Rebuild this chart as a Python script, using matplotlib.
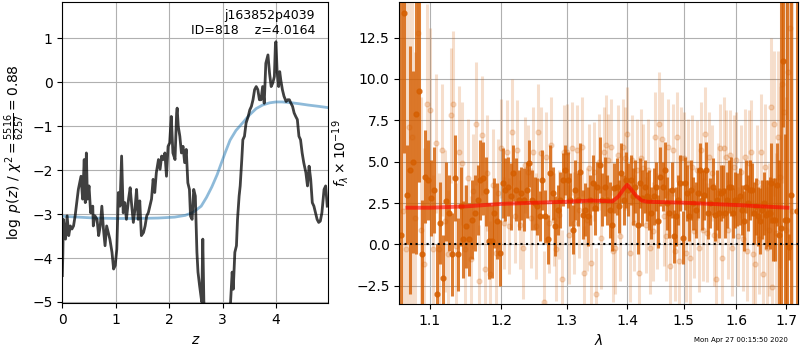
import numpy as np
import matplotlib
matplotlib.use('Agg')
import matplotlib.pyplot as plt
from matplotlib.ticker import FixedLocator, FormatStrFormatter, NullLocator

# log p(z) curve (black)
z_pz = [0.00, 0.01, 0.02, 0.06, 0.09, 0.12, 0.15, 0.18, 0.21, 0.24,
        0.27, 0.30, 0.35, 0.38, 0.41, 0.43, 0.45, 0.47, 0.50, 0.53,
        0.57, 0.58, 0.61, 0.65, 0.68, 0.71, 0.74, 0.77, 0.80, 0.83,
        0.86, 0.89, 0.93, 0.96, 0.99, 1.02, 1.05, 1.08, 1.11, 1.14,
        1.17, 1.20, 1.24, 1.27, 1.30, 1.33, 1.36, 1.39, 1.42, 1.45,
        1.48, 1.52, 1.55, 1.58, 1.61, 1.64, 1.67, 1.70, 1.73, 1.76,
        1.80, 1.83, 1.86, 1.89, 1.92, 1.95, 1.98, 2.01, 2.04, 2.07,
        2.11, 2.14, 2.15, 2.17, 2.20, 2.23, 2.26, 2.29, 2.32, 2.35,
        2.38, 2.40, 2.43, 2.46, 2.49, 2.52, 2.54, 2.57, 2.61, 2.63,
        2.65, 2.70, 2.80, 2.90, 3.00, 3.08, 3.13, 3.15, 3.18, 3.20,
        3.23, 3.26, 3.28, 3.31, 3.33, 3.36, 3.38, 3.41, 3.44, 3.48,
        3.51, 3.54, 3.57, 3.60, 3.63, 3.66, 3.69, 3.72, 3.75, 3.78,
        3.81, 3.85, 3.88, 3.91, 3.94, 3.97, 3.99, 4.00, 4.02, 4.05,
        4.07, 4.09, 4.12, 4.15, 4.19, 4.22, 4.25, 4.28, 4.31, 4.34,
        4.37, 4.40, 4.43, 4.46, 4.49, 4.52, 4.56, 4.59, 4.62, 4.65,
        4.68, 4.71, 4.74, 4.77, 4.80, 4.83, 4.86, 4.90, 4.93, 4.96]
logpz = [-4.40, -3.90, -3.12, -3.57, -3.04, -3.49, -3.27, -3.34, -3.27, -3.04,
         -2.74, -2.44, -2.14, -2.66, -1.76, -2.74, -1.61, -2.66, -2.36, -2.97,
         -2.82, -3.27, -3.04, -3.12, -3.49, -3.27, -2.82, -3.34, -3.72, -3.27,
         -3.42, -3.57, -3.87, -4.25, -4.17, -3.80, -2.51, -2.82, -1.68, -2.97,
         -2.74, -3.12, -2.66, -2.40, -2.82, -3.19, -2.89, -2.44, -3.12, -2.70,
         -3.49, -3.42, -3.27, -3.04, -2.97, -2.82, -2.66, -2.21, -2.51, -2.06,
         -1.76, -1.98, -1.68, -1.76, -1.61, -2.14, -1.46, -1.38, -0.78, -1.61,
         -1.76, -0.70, -0.59, -1.00, -1.23, -1.61, -1.46, -1.83, -1.53, -2.29,
         -2.44, -3.05, -3.12, -2.44, -2.59, -3.87, -4.32, -4.63, -5.00, -3.57,
         -5.00, -5.80, -6.50, -7.00, -6.80, -6.00, -5.30, -5.00, -4.32, -4.71,
         -3.87, -3.72, -3.12, -2.59, -2.36, -1.76, -1.31, -1.23, -0.93, -0.78,
         -0.63, -0.55, -0.40, -0.17, -0.10, -0.17, -0.40, -0.40, -0.10, -0.48,
         0.43, 0.62, 0.20, -0.10, -0.02, 0.13, 0.88, 0.92, 0.28, -0.10,
         0.24, 0.05, -0.17, -0.32, -0.44, -0.40, -0.40, -0.48, -0.55, -0.70,
         -0.78, -0.85, -1.23, -1.31, -1.61, -1.83, -2.06, -2.36, -1.91, -2.21,
         -2.74, -2.82, -2.97, -3.12, -3.19, -3.16, -2.97, -2.44, -2.36, -2.82]

# scaled chi2 curve (blue)
z_chi = [0.0, 0.3, 0.6, 1.0, 1.4, 1.8, 2.1, 2.3, 2.45, 2.6, 2.7, 2.8, 2.9, 2.95,
         3.05, 3.14, 3.25, 3.38, 3.5, 3.63, 3.75, 3.88, 4.0, 4.12, 4.3, 4.43,
         4.6, 4.8, 4.98]
chi_scaled = [-3.05, -3.07, -3.09, -3.10, -3.10, -3.09, -3.07, -3.03, -2.96, -2.82,
              -2.62, -2.38, -2.10, -1.93, -1.60, -1.32, -1.10, -0.92, -0.75, -0.60,
              -0.52, -0.47, -0.45, -0.45, -0.47, -0.49, -0.52, -0.55, -0.58]

# spectrum, first set (dark)
wave_a = [1.062, 1.066, 1.070, 1.074, 1.078, 1.082, 1.086, 1.090, 1.094, 1.098,
          1.102, 1.106, 1.110, 1.114, 1.118, 1.122, 1.126, 1.130, 1.134, 1.138,
          1.142, 1.146, 1.150, 1.154, 1.158, 1.162, 1.166, 1.170, 1.174, 1.178,
          1.182, 1.186, 1.190, 1.194, 1.198, 1.202, 1.206, 1.210, 1.214, 1.218,
          1.222, 1.226, 1.230, 1.234, 1.238, 1.242, 1.246, 1.250, 1.254, 1.258,
          1.262, 1.266, 1.270, 1.274, 1.278, 1.282, 1.286, 1.290, 1.294, 1.298,
          1.302, 1.306, 1.310, 1.314, 1.318, 1.322, 1.326, 1.330, 1.334, 1.338,
          1.342, 1.346, 1.350, 1.354, 1.358, 1.362, 1.366, 1.370, 1.374, 1.378,
          1.382, 1.386, 1.390, 1.394, 1.398, 1.402, 1.406, 1.410, 1.414, 1.418,
          1.422, 1.426, 1.430, 1.434, 1.438, 1.442, 1.446, 1.450, 1.454, 1.458,
          1.462, 1.466, 1.470, 1.474, 1.478, 1.482, 1.486, 1.490, 1.494, 1.498,
          1.502, 1.506, 1.510, 1.514, 1.518, 1.522, 1.526, 1.530, 1.534, 1.538,
          1.542, 1.546, 1.550, 1.554, 1.558, 1.562, 1.566, 1.570, 1.574, 1.578,
          1.582, 1.586, 1.590, 1.594, 1.598, 1.602, 1.606, 1.610, 1.614, 1.618,
          1.622, 1.626, 1.630, 1.634, 1.638, 1.642, 1.646, 1.650, 1.654, 1.658,
          1.662, 1.666, 1.670, 1.674, 1.678, 1.682, 1.686, 1.690, 1.694, 1.698,
          1.702, 1.706, 1.710, 1.722]
flux_a = [0.6, 14.0, 3.0, 4.5, 5.0, 7.9, 9.3, -0.6, 4.1, 3.9,
          2.8, 3.3, -3.0, 1.3, -2.0, 2.6, 1.9, -0.6, 4.0, -0.6,
          2.3, 0.3, 1.1, 0.3, 1.5, 1.9, 2.7, 3.9, 4.0, 3.2,
          0.2, 0.2, 1.9, 1.4, -0.5, 3.7, 3.3, 3.5, 2.9, 4.3,
          3.3, 2.7, 3.1, 2.7, 3.3, 4.9, 2.7, 2.5, 2.3, 1.7,
          3.9, 1.7, 0.3, 4.3, 3.1, 1.1, 2.1, 2.7, 3.9, 4.5,
          3.9, 2.7, 0.9, 3.3, 2.7, 4.4, 1.8, 2.1, 1.7, 2.7,
          3.7, 2.2, 3.5, 4.8, 2.7, 3.5, 2.7, 2.1, 1.2, 3.4,
          3.5, 2.3, 4.3, 2.7, 3.9, 3.3, 3.9, 2.9, 3.5, 1.2,
          3.7, 2.8, 3.5, 2.9, 2.7, 1.9, 2.9, 3.5, 1.4, 4.1,
          3.5, 4.5, 2.5, 1.9, 3.3, 0.5, 1.7, 2.7, 3.7, 0.4,
          3.7, 3.1, 1.7, 3.3, 2.5, 2.1, 3.1, 4.5, 2.7, 3.0,
          4.5, 1.9, 2.5, 3.5, 1.8, 2.7, 1.9, 3.1, 3.2, 1.9,
          2.7, 3.5, 3.5, 1.9, 2.7, 2.7, 2.9, 2.1, 1.4, 3.5,
          2.5, 3.3, 3.3, 1.9, 2.3, 1.7, 1.4, 2.1, 2.5, 1.8,
          1.9, 1.9, 3.7, 1.5, 1.5, 3.6, 0.6, 1.0, 11.1, 1.5,
          1.5, -0.15, 3.0, 2.0]
err_a = [30.0, 8.5, 3.0, 7.5, 5.5, 8.5, 5.5, 3.3, 2.8, 2.4,
         2.3, 2.6, 3.0, 2.5, 2.6, 2.4, 2.3, 2.5, 2.6, 2.2,
         2.4, 2.3, 2.5, 2.2, 2.4, 2.3, 2.1, 2.4, 2.2, 2.1,
         2.3, 2.2, 2.1, 2.3, 2.0, 2.1, 1.9, 1.8, 2.0, 1.7,
         1.9, 1.8, 1.6, 1.9, 1.7, 1.4, 1.8, 1.6, 1.7, 1.5,
         1.8, 1.6, 1.5, 1.7, 1.6, 1.8, 1.5, 1.7, 1.6, 1.5,
         1.7, 1.6, 1.5, 1.8, 1.6, 1.7, 1.5, 1.6, 1.8, 1.5,
         1.7, 1.6, 1.5, 1.7, 1.6, 1.8, 1.5, 1.7, 1.6, 1.5,
         1.7, 1.6, 1.8, 1.5, 1.7, 1.6, 1.5, 1.7, 1.6, 1.8,
         1.5, 1.7, 1.6, 1.5, 1.8, 1.6, 1.7, 1.5, 1.6, 1.8,
         1.5, 1.7, 1.6, 1.5, 1.7, 1.6, 1.8, 1.5, 1.7, 1.6,
         1.6, 1.7, 1.5, 1.8, 1.6, 1.7, 1.5, 1.6, 1.8, 1.5,
         1.7, 1.6, 1.5, 1.7, 1.6, 1.8, 1.5, 1.7, 1.6, 1.5,
         1.7, 1.6, 1.8, 1.5, 1.7, 1.6, 1.7, 1.5, 1.8, 1.6,
         1.7, 1.8, 1.6, 1.9, 1.7, 1.8, 2.0, 1.8, 1.9, 2.1,
         2.0, 2.2, 2.4, 2.5, 2.5, 2.5, 4.5, 30.0, 4.0, 5.2,
         30.0, 0.8, 30.0, 30.0]

# spectrum, second set (light)
wave_b = [1.064, 1.068, 1.072, 1.076, 1.080, 1.084, 1.088, 1.092, 1.096, 1.100,
          1.104, 1.108, 1.112, 1.116, 1.120, 1.124, 1.128, 1.132, 1.136, 1.140,
          1.144, 1.148, 1.152, 1.156, 1.160, 1.164, 1.168, 1.172, 1.176, 1.180,
          1.184, 1.188, 1.192, 1.196, 1.200, 1.204, 1.208, 1.212, 1.216, 1.220,
          1.224, 1.228, 1.232, 1.236, 1.240, 1.244, 1.248, 1.252, 1.256, 1.260,
          1.264, 1.268, 1.272, 1.276, 1.280, 1.284, 1.288, 1.292, 1.296, 1.300,
          1.304, 1.308, 1.312, 1.316, 1.320, 1.324, 1.328, 1.332, 1.336, 1.340,
          1.344, 1.348, 1.352, 1.356, 1.360, 1.364, 1.368, 1.372, 1.376, 1.380,
          1.384, 1.388, 1.392, 1.396, 1.400, 1.404, 1.408, 1.412, 1.416, 1.420,
          1.424, 1.428, 1.432, 1.436, 1.440, 1.444, 1.448, 1.452, 1.456, 1.460,
          1.464, 1.468, 1.472, 1.476, 1.480, 1.484, 1.488, 1.492, 1.496, 1.500,
          1.504, 1.508, 1.512, 1.516, 1.520, 1.524, 1.528, 1.532, 1.536, 1.540,
          1.544, 1.548, 1.552, 1.556, 1.560, 1.564, 1.568, 1.572, 1.576, 1.580,
          1.584, 1.588, 1.592, 1.596, 1.600, 1.604, 1.608, 1.612, 1.616, 1.620,
          1.624, 1.628, 1.632, 1.636, 1.640, 1.644, 1.648, 1.652, 1.656, 1.660,
          1.664, 1.668, 1.672, 1.676, 1.680, 1.684, 1.688, 1.692, 1.696, 1.700,
          1.704, 1.708, 1.712]
flux_b = [2.0, -0.3, 7.1, 6.5, 1.6, 12.8, 0.9, -1.2, 8.5, 8.1,
          -0.3, 6.1, -0.3, 5.7, 1.4, -0.6, 7.8, 8.5, -0.1, 5.6,
          4.9, -0.3, 4.0, -0.9, 3.2, 7.3, -2.2, 6.6, -1.5, 4.3,
          -1.8, 3.6, -0.5, 3.1, 5.8, 1.3, 5.6, 1.1, 6.8, 1.7,
          5.7, 1.2, -0.2, 4.8, 4.4, 1.6, 5.6, 1.1, 6.8, 5.5,
          -3.5, 5.3, 1.3, 6.0, 1.5, -0.3, 1.8, -2.1, 5.6, 5.6,
          0.6, 5.8, 1.3, 5.7, 2.1, 5.9, -1.7, 1.5, 4.6, -1.1,
          4.4, -3.0, 5.0, 0.4, 5.6, 6.0, 5.1, 5.9, -0.4, -0.2,
          5.4, 0.5, 5.9, 5.2, 6.7, -0.5, 5.1, 1.3, 4.5, -1.7,
          5.2, 4.6, 1.2, 4.5, -0.2, 0.8, 6.5, 1.4, 7.3, 6.4,
          1.7, 0.5, 5.9, -1.3, 5.7, -0.4, 6.5, -1.0, 5.2, 5.2,
          -0.5, 4.9, -0.8, 4.7, 0.8, 4.5, -0.2, 5.7, 0.9, 6.7,
          0.7, 5.3, 4.3, 0.6, -2.1, 3.1, 5.8, -0.8, 5.8, 5.3,
          0.9, 5.4, -0.2, 4.7, 5.1, 0.5, 4.4, 0.3, 5.3, -0.4,
          4.9, 5.6, -0.6, -1.2, 3.8, 0.3, 5.6, -1.8, 4.7, -0.2,
          0.9, 8.3, -2.6, 7.3, 0.7, 6.5, 4.1, 9.7, 8.0, 0.9,
          10.4, 13.1, 2.0]
err_b = [30.0, 25.0, 18.0, 14.0, 10.0, 9.0, 8.0, 7.0, 6.0, 5.0,
         4.5, 4.2, 4.6, 4.0, 4.3, 3.9, 4.1, 4.4, 3.8, 4.0,
         3.7, 3.9, 3.6, 3.8, 3.5, 3.7, 3.4, 3.6, 3.3, 3.5,
         3.2, 3.4, 3.1, 3.3, 3.0, 2.8, 3.1, 2.9, 3.2, 2.8,
         3.0, 2.7, 3.1, 2.9, 2.8, 3.0, 2.7, 3.2, 2.9, 2.8,
         3.1, 2.7, 3.0, 2.9, 2.8, 3.1, 2.7, 3.0, 2.8, 2.9,
         3.0, 2.8, 3.1, 2.7, 2.9, 3.0, 2.8, 3.1, 2.7, 2.9,
         3.0, 2.8, 2.9, 3.1, 2.7, 3.0, 2.8, 2.9, 3.1, 2.8,
         3.0, 2.7, 2.9, 3.1, 2.8, 3.0, 2.7, 2.9, 3.1, 2.8,
         3.0, 2.7, 2.9, 3.1, 2.8, 3.0, 2.7, 2.9, 3.1, 2.8,
         3.0, 2.7, 2.9, 3.1, 2.8, 3.0, 2.7, 2.9, 3.1, 2.8,
         3.0, 2.7, 2.9, 3.1, 2.8, 3.0, 2.7, 2.9, 3.1, 2.8,
         3.0, 2.7, 2.9, 3.1, 2.8, 3.0, 2.7, 2.9, 3.1, 2.8,
         3.0, 2.7, 2.9, 3.1, 2.9, 3.0, 2.8, 3.1, 2.9, 3.0,
         3.2, 3.1, 3.3, 3.2, 3.4, 3.3, 3.5, 3.6, 3.8, 3.7,
         4.0, 4.2, 4.5, 4.4, 4.8, 5.2, 5.5, 6.0, 7.0, 8.0,
         10.0, 14.0, 20.0]

# best-fit model (red)
wave_model = [1.07, 1.10, 1.15, 1.20, 1.25, 1.30, 1.34, 1.375, 1.385, 1.395,
              1.40, 1.405, 1.415, 1.425, 1.435, 1.50, 1.55, 1.60, 1.65, 1.703]
flux_model = [2.22, 2.22, 2.30, 2.45, 2.52, 2.58, 2.65, 2.60, 2.90, 3.40,
              3.60, 3.40, 2.95, 2.65, 2.58, 2.52, 2.45, 2.38, 2.30, 2.22]

lam_ticks = [1.1, 1.2, 1.3, 1.4, 1.5, 1.6, 1.7]
g141_color = (0.835, 0.369, 0.0)

fig = plt.figure(figsize=(8, 3.5), dpi=100)

# --- p(z) panel
ax = fig.add_axes([0.0779, 0.1334, 0.3325, 0.8617])
ax.plot(z_chi, chi_scaled, color='tab:blue', alpha=0.5, lw=2)
ax.plot(z_pz, logpz, color='k', alpha=0.75, lw=2)
ax.set_xlim(0, 4.98)
ax.set_ylim(-5.03, 1.83)
ax.set_xticks([0, 1, 2, 3, 4])
ax.set_yticks([-5, -4, -3, -2, -1, 0, 1])
ax.grid(True)
ax.set_xlabel(r'$z$')
ax.set_ylabel(r'$\log\ p(z)$' + ' / ' + r'$\chi^2=\frac{5516}{6257}=0.88$')
ax.text(0.95, 0.975, 'j163852p4039\nID=818    z=4.0164', ha='right', va='top',
        transform=ax.transAxes, fontsize=9)

# --- spectrum panel
ax2 = fig.add_axes([0.4991, 0.1314, 0.4988, 0.8629])
ax2.errorbar(wave_b, flux_b, yerr=err_b, color=g141_color, alpha=0.2,
             marker='o', ms=3.5, linestyle='None', elinewidth=2.2)
ax2.errorbar(wave_a, flux_a, yerr=err_a, color=g141_color, alpha=0.8,
             marker='o', ms=3.5, linestyle='None', elinewidth=2.2)
ax2.plot(wave_model, flux_model, color='r', alpha=0.6, lw=2.8, zorder=5)
ax2.axhline(0, color='k', linestyle=':', lw=1.5, zorder=6)

ax2.set_xscale('log')
ax2.xaxis.set_major_locator(FixedLocator(lam_ticks))
ax2.xaxis.set_major_formatter(FormatStrFormatter('%.1f'))
ax2.xaxis.set_minor_locator(NullLocator())
ax2.set_xlim(1.0595, 1.7257)
ax2.set_ylim(-3.6, 14.65)
ax2.set_yticks([-2.5, 0.0, 2.5, 5.0, 7.5, 10.0, 12.5])
ax2.grid(True)
ax2.set_xlabel(r'$\lambda$')
ax2.set_ylabel(r'$f_\lambda\times10^{-19}$')

fig.text(0.985, 0.02, 'Mon Apr 27 00:15:50 2020', ha='right', va='bottom', fontsize=5)

fig.savefig('out.png', dpi=100)
